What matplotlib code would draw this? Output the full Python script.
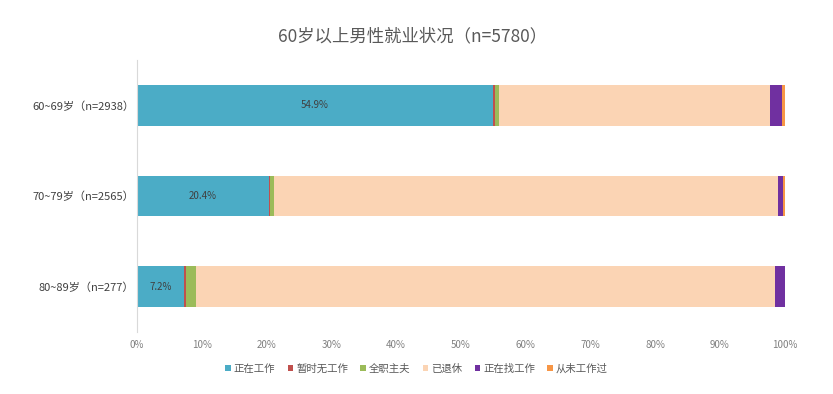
import matplotlib
matplotlib.use("Agg")
import matplotlib.pyplot as plt
from matplotlib.ticker import PercentFormatter

plt.rcParams['font.family'] = ['Noto Sans CJK SC', 'DejaVu Sans']

# age groups, top to bottom
groups = ["60~69岁（n=2938）", "70~79岁（n=2565）", "80~89岁（n=277）"]
statuses = ["正在工作", "暂时无工作", "全职主夫", "已退休", "正在找工作", "从未工作过"]
colors = ["#4BACC6", "#C0504D", "#9BBB59", "#FBD4B4", "#7030A0", "#F79646"]

# shares in percent, one list per status
working = [54.9, 20.4, 7.2]
temp_no_work = [0.3, 0.1, 0.4]
homemaker = [0.7, 0.6, 1.5]
retired = [41.9, 77.8, 89.4]
job_seeking = [1.8, 0.8, 1.5]
never_worked = [0.4, 0.3, 0.0]

series = [working, temp_no_work, homemaker, retired, job_seeking, never_worked]

fig = plt.figure(figsize=(8.33, 3.94), dpi=100)
ax = fig.add_axes([0.1645, 0.157, 0.7775, 0.691])

ypos = list(range(len(groups)))
left = [0.0] * len(groups)
for vals, name, c in zip(series, statuses, colors):
    ax.barh(ypos, vals, left=left, height=0.45, color=c, label=name)
    left = [l + v for l, v in zip(left, vals)]

# only the working share is labelled
for y, v in zip(ypos, working):
    ax.text(v / 2, y, f"{v}%", ha="center", va="center", fontsize=7, color="#404040")

ax.set_xlim(0, 100)
ax.set_ylim(2.5, -0.5)
ax.set_yticks(ypos)
ax.set_yticklabels(groups, fontsize=8, color="#404040")
ax.set_xticks(range(0, 101, 10))
ax.xaxis.set_major_formatter(PercentFormatter(decimals=0))
ax.tick_params(axis="x", labelsize=7, colors="#808080", length=0, pad=6)
ax.tick_params(axis="y", length=0, pad=2)

for s in ["top", "right", "bottom"]:
    ax.spines[s].set_visible(False)
ax.spines["left"].set_color("#D9D9D9")

fig.suptitle("60岁以上男性就业状况（n=5780）", x=0.495, y=0.93, fontsize=12.5, color="#595959")

fig.legend(loc="center", bbox_to_anchor=(0.5, 0.065), ncol=6, frameon=False,
           fontsize=7.5, handlelength=0.5, handleheight=0.5, handletextpad=0.3,
           columnspacing=1.2, labelcolor="#595959")

fig.savefig("out.png", dpi=100, facecolor="white")
